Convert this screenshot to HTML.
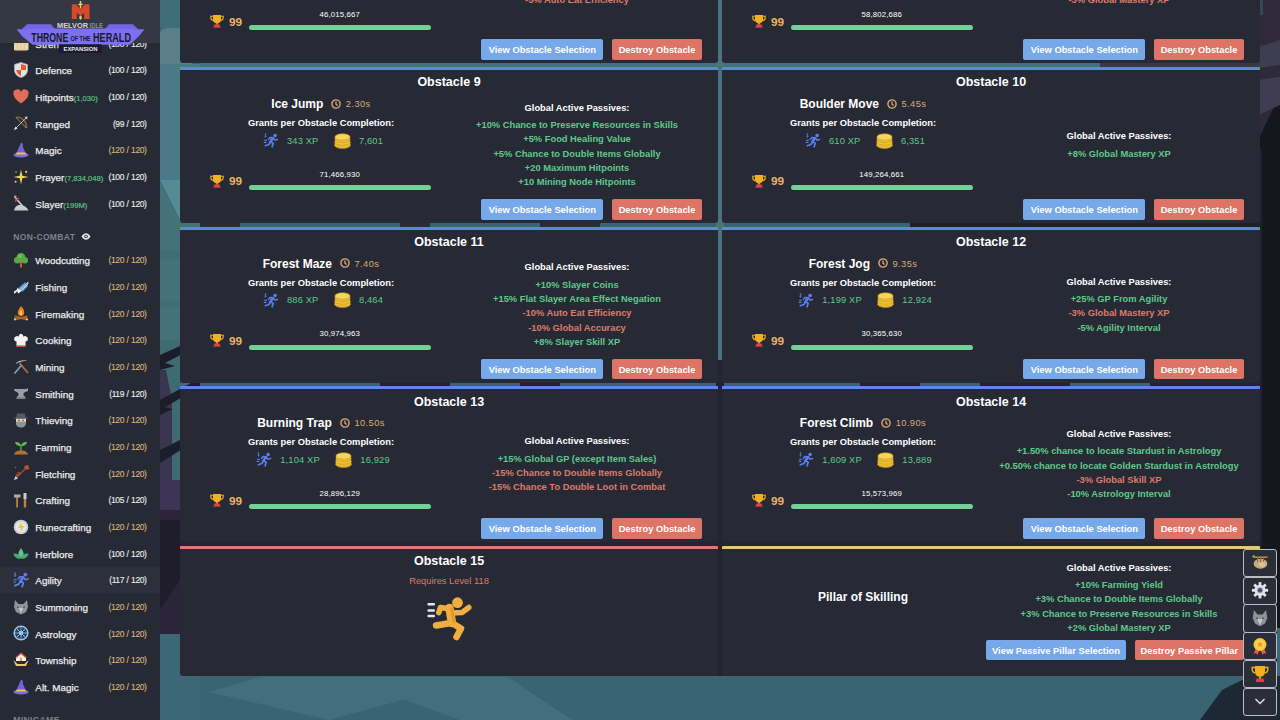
<!DOCTYPE html><html><head><meta charset="utf-8"><style>
*{box-sizing:border-box;margin:0;padding:0}
html,body{width:1280px;height:720px;overflow:hidden}
body{position:relative;font-family:"Liberation Sans",sans-serif;background:#3c6572;color:#f0f0f0}
.bg{position:absolute;left:0;top:0;width:1280px;height:720px}
.card{position:absolute;width:538px;background:#272a35;border-radius:1px 1px 3px 3px;overflow:hidden}
.card>div{position:absolute}
.card .tb{left:0;top:0;width:100%;height:3px}
.ttl{left:0;top:8.4px;width:100%;text-align:center;font-size:12.5px;font-weight:700;color:#fff;line-height:14px}
.lc{left:13px;width:256px;text-align:center;white-space:nowrap;line-height:14px}
.oname{font-size:12px;font-weight:700;color:#fff;vertical-align:middle}
.clk{display:inline-block;vertical-align:middle;margin:0 4.5px 0 8px;height:10px;line-height:0}
.otime{font-size:9.33px;color:#d9a877;vertical-align:middle;letter-spacing:0.4px}
.grants{font-size:9.33px;font-weight:700;color:#fff}
.rew{height:16px;left:15px!important}
.rew .ico{display:inline-block;vertical-align:middle;line-height:0}
.rew .rv{font-size:9.33px;color:#5ec98a;vertical-align:middle;margin-left:8px;margin-right:15.5px;letter-spacing:0.15px}
.mnum{left:68.5px;width:182.5px;text-align:center;font-size:7.8px;letter-spacing:0.15px;color:#fff}
.troph{left:30px;line-height:0}
.m99{left:49px;margin-top:0.3px;font-size:11.8px;font-weight:700;color:#ecb46a}
.bar{left:68.5px;width:182.5px;height:5px;border-radius:3px;background:#72d197}
.pas{left:269px;width:256px;text-align:center;white-space:nowrap;font-size:9.33px;font-weight:700;line-height:14.33px}
.pas .ph{color:#fff;margin-bottom:3px}
.pg{color:#5ec98a}
.pr{color:#de7a69}
.btn{top:132px;height:20.5px;border-radius:2px;font-size:9.33px;font-weight:700;color:#fff;text-align:center;line-height:22.3px;white-space:nowrap}
.bb{background:#77a9ea}
.br{background:#dd7466}
.req{left:0;width:100%;text-align:center;font-size:9.33px;color:#de7a69}
.side{position:absolute;left:0;top:0;width:160px;height:720px;background:#262a35;overflow:hidden}
.shead{position:absolute;left:0;top:0;width:160px;height:42.8px;background:#343842}
.item{position:absolute;left:0;width:160px;height:26.667px}
.item .lab{position:absolute;left:35.3px;top:1.5px;line-height:26.667px;font-size:9.9px;color:#ececec;-webkit-text-stroke:0.25px #ececec}
.item .lab small{font-size:7.6px;color:#5ec98a;-webkit-text-stroke:0.15px #5ec98a}
.item .lv{position:absolute;right:13.5px;top:0.7px;line-height:26.667px;font-size:8.5px;letter-spacing:-0.4px;word-spacing:0.6px;color:#e8e8e8;-webkit-text-stroke:0.15px #e8e8e8}
.item .lv.mx{color:#d3b27c;-webkit-text-stroke:0.15px #d3b27c}
.item .si{position:absolute;left:12.5px;top:5.3px;width:16px;height:16px;line-height:0}
.shdr{position:absolute;left:13.3px;font-size:8.5px;font-weight:700;color:#7d818a;letter-spacing:0.35px}
.fb{position:absolute;left:1243px;width:34px;height:28px;border:1.5px solid #b8bcc4;border-radius:3px;background:#2b2e39}
</style></head><body><svg class="bg" width="1280" height="720" viewBox="0 0 1280 720" style="position:absolute;left:0;top:0">
<rect x="160" y="0" width="1120" height="720" fill="#3b6472"/>
<rect x="160" y="0" width="40" height="28" fill="#3f6d78"/>
<path d="M160 64V34q0-6 8-6h24v36z" fill="#5a7f88"/>
<rect x="160" y="64" width="40" height="116" fill="#4a7a85"/>
<path d="M160 180h40v40h-20z" fill="#578a94"/>
<path d="M160 180l20 40h20v120h-40z" fill="#45717b"/>
<path d="M160 250h40v10h-40zM160 300h40v8h-40z" fill="#426c76"/>
<rect x="160" y="340" width="40" height="140" fill="#3f6a72"/>
<path d="M160 370h6l6 30v80h-12z" fill="#3a3550"/>
<path d="M160 355l40-18v8l-35 18 10 3-15 4zM160 400l40-22v9l-35 20 8 2-13 6zM160 450l40-20v8l-40 25z" fill="#1c1d2b"/>
<rect x="160" y="480" width="40" height="30" fill="#3d3556"/>
<rect x="160" y="510" width="40" height="124" fill="#2a2538"/>
<path d="M160 520h20v60l-20 30z" fill="#1f1d2c"/>
<rect x="160" y="634" width="40" height="86" fill="#3d6775"/>
<rect x="1258" y="0" width="22" height="720" fill="#15161e"/>
<path d="M1258 0h22v95l-22 45z" fill="#2e2a3c"/>
<path d="M1258 47l22-7v25l-22 3z" fill="#3f3d50"/>
<path d="M1258 80l22-3v28l-22 10z" fill="#403d52"/>
<path d="M1258 0h5v15h-5z" fill="#2e4a55"/>
<path d="M1258 150h4v420h-4z" fill="#221f30"/>
<rect x="1277" y="628" width="3" height="70" fill="#3e6878"/>
<rect x="200" y="63" width="900" height="4" fill="#44707c"/><rect x="1100" y="63" width="160" height="4" fill="#3a3848"/>
<rect x="180" y="541" width="1080" height="6" fill="#262430"/>
<rect x="716" y="0" width="8" height="360" fill="#48737f"/><rect x="716" y="360" width="8" height="316" fill="#25232f"/>
<rect x="910" y="221" width="350" height="7" fill="#1f1f2b"/>
<path d="M380 381h70v6h-70zM520 381h40v6h-40zM860 381h60v6h-60zM980 381h90v6h-90zM1150 381h110v6h-110z" fill="#23222e"/>
<path d="M200 221h40v6h-40zM400 221h30v6h-30zM540 221h60v6h-60z" fill="#2a2a38"/>
<path d="M208.7 692L261 677H508.7L535 695.6 572.5 720H460L403.7 699.4 328.7 720z" fill="#436e7e"/>
<path d="M1200 720L1222 690 1250 676 1280 676V720z" fill="#1c2834"/>
</svg><div class="card" style="left:180px;top:-92.67px;height:156px"><div class="tb" style="background:#5b87e8"></div><div class="ttl">Obstacle 7</div><div class="lc" style="top:29px"><span class="oname">Forest Jog</span><span class="clk"><svg width="10" height="10" viewBox="0 0 10 10"><circle cx="5" cy="5" r="4.1" fill="none" stroke="#d9a877" stroke-width="1.4"/><path d="M5 2.6V5.2L6.6 6.6" fill="none" stroke="#d9a877" stroke-width="1.3"/></svg></span><span class="otime">9.35s</span></div><div class="lc grants" style="top:49px">Grants per Obstacle Completion:</div><div class="lc rew" style="top:65.5px"><span class="ico"><svg width="16" height="15" viewBox="0 0 16 16"><g fill="none" stroke="#5b7ff0" stroke-linecap="round" stroke-linejoin="round"><path d="M10.2 5.3L7.4 9.4" stroke-width="2.7"/><path d="M10.2 5.3L12.4 7.6 15 7" stroke-width="1.6"/><path d="M9.6 5.1L6.9 4.7 5.2 6.8" stroke-width="1.6"/><path d="M7.4 9.4L10.3 10.9 9.2 14.7" stroke-width="1.8"/><path d="M7.4 9.4L5.7 12.2 1.9 13.6" stroke-width="1.8"/><path d="M1 7.8h2.4M0.7 10h2" stroke-width="1.1"/><path d="M2.6 1.3C1.6 1.1 1.2 1.7 1.6 2.2S3.2 2.8 2.9 3.6 1.6 4 1.2 3.7M2.1 0.6v4" stroke-width="0.7"/></g><circle cx="12.4" cy="2.6" r="1.9" fill="#5b7ff0"/></svg></span><span class="rv">1,199 XP</span><span class="ico coin"><svg width="17" height="16" viewBox="0 0 17 16"><g stroke="#c99a1c" stroke-width="0.6"><ellipse cx="8.5" cy="12.3" rx="7.8" ry="3.2" fill="#e7b92e"/><rect x="0.7" y="9" width="15.6" height="3.3" fill="#e7b92e" stroke="none"/><ellipse cx="8.5" cy="9" rx="7.8" ry="3" fill="#f3cd45"/><ellipse cx="8.5" cy="7" rx="7.6" ry="3" fill="#e7b92e"/><rect x="0.9" y="4" width="15.2" height="3" fill="#e7b92e" stroke="none"/><ellipse cx="8.5" cy="4" rx="7.6" ry="3.2" fill="#f6d55a"/></g></svg></span><span class="rv" style="margin-right:0">12,924</span></div><div class="mnum" style="top:102.5px">46,015,667</div><div class="troph" style="top:106.5px"><svg width="14" height="14" viewBox="0 0 14 14"><path d="M3 1h8v4.2a4 4 0 0 1-8 0z" fill="#f2b01e"/><path d="M3 2.2H0.8v1.4a3 3 0 0 0 2.7 3M11 2.2h2.2v1.4a3 3 0 0 1-2.7 3" fill="none" stroke="#f2b01e" stroke-width="1.1"/><rect x="6" y="8.7" width="2" height="2" fill="#e09a14"/><path d="M4.3 10.5h5.4l0.6 2.8H3.7z" fill="#d6454f"/><rect x="3.2" y="13" width="7.6" height="1" fill="#b0303a"/></svg></div><div class="m99" style="top:107px">99</div><div class="bar" style="top:118px"></div><div class="pas" style="top:53.80px;"><div class="ph">Global Active Passives:</div><div class="pg">+5% Something Here</div><div class="pr">-5% Auto Eat Efficiency</div></div><div class="btn bb" style="left:301.3px;width:122px">View Obstacle Selection</div><div class="btn br" style="left:432px;width:90px">Destroy Obstacle</div></div><div class="card" style="left:722px;top:-92.67px;height:156px"><div class="tb" style="background:#5b87e8"></div><div class="ttl">Obstacle 8</div><div class="lc" style="top:29px"><span class="oname">Forest Jog</span><span class="clk"><svg width="10" height="10" viewBox="0 0 10 10"><circle cx="5" cy="5" r="4.1" fill="none" stroke="#d9a877" stroke-width="1.4"/><path d="M5 2.6V5.2L6.6 6.6" fill="none" stroke="#d9a877" stroke-width="1.3"/></svg></span><span class="otime">9.35s</span></div><div class="lc grants" style="top:49px">Grants per Obstacle Completion:</div><div class="lc rew" style="top:65.5px"><span class="ico"><svg width="16" height="15" viewBox="0 0 16 16"><g fill="none" stroke="#5b7ff0" stroke-linecap="round" stroke-linejoin="round"><path d="M10.2 5.3L7.4 9.4" stroke-width="2.7"/><path d="M10.2 5.3L12.4 7.6 15 7" stroke-width="1.6"/><path d="M9.6 5.1L6.9 4.7 5.2 6.8" stroke-width="1.6"/><path d="M7.4 9.4L10.3 10.9 9.2 14.7" stroke-width="1.8"/><path d="M7.4 9.4L5.7 12.2 1.9 13.6" stroke-width="1.8"/><path d="M1 7.8h2.4M0.7 10h2" stroke-width="1.1"/><path d="M2.6 1.3C1.6 1.1 1.2 1.7 1.6 2.2S3.2 2.8 2.9 3.6 1.6 4 1.2 3.7M2.1 0.6v4" stroke-width="0.7"/></g><circle cx="12.4" cy="2.6" r="1.9" fill="#5b7ff0"/></svg></span><span class="rv">1,199 XP</span><span class="ico coin"><svg width="17" height="16" viewBox="0 0 17 16"><g stroke="#c99a1c" stroke-width="0.6"><ellipse cx="8.5" cy="12.3" rx="7.8" ry="3.2" fill="#e7b92e"/><rect x="0.7" y="9" width="15.6" height="3.3" fill="#e7b92e" stroke="none"/><ellipse cx="8.5" cy="9" rx="7.8" ry="3" fill="#f3cd45"/><ellipse cx="8.5" cy="7" rx="7.6" ry="3" fill="#e7b92e"/><rect x="0.9" y="4" width="15.2" height="3" fill="#e7b92e" stroke="none"/><ellipse cx="8.5" cy="4" rx="7.6" ry="3.2" fill="#f6d55a"/></g></svg></span><span class="rv" style="margin-right:0">12,924</span></div><div class="mnum" style="top:102.5px">58,802,686</div><div class="troph" style="top:106.5px"><svg width="14" height="14" viewBox="0 0 14 14"><path d="M3 1h8v4.2a4 4 0 0 1-8 0z" fill="#f2b01e"/><path d="M3 2.2H0.8v1.4a3 3 0 0 0 2.7 3M11 2.2h2.2v1.4a3 3 0 0 1-2.7 3" fill="none" stroke="#f2b01e" stroke-width="1.1"/><rect x="6" y="8.7" width="2" height="2" fill="#e09a14"/><path d="M4.3 10.5h5.4l0.6 2.8H3.7z" fill="#d6454f"/><rect x="3.2" y="13" width="7.6" height="1" fill="#b0303a"/></svg></div><div class="m99" style="top:107px">99</div><div class="bar" style="top:118px"></div><div class="pas" style="top:53.80px;"><div class="ph">Global Active Passives:</div><div class="pg">+5% Something Here</div><div class="pr">-3% Global Mastery XP</div></div><div class="btn bb" style="left:301.3px;width:122px">View Obstacle Selection</div><div class="btn br" style="left:432px;width:90px">Destroy Obstacle</div></div><div class="card" style="left:180px;top:67.00px;height:156px"><div class="tb" style="background:#5b87e8"></div><div class="ttl">Obstacle 9</div><div class="lc" style="top:29px"><span class="oname">Ice Jump</span><span class="clk"><svg width="10" height="10" viewBox="0 0 10 10"><circle cx="5" cy="5" r="4.1" fill="none" stroke="#d9a877" stroke-width="1.4"/><path d="M5 2.6V5.2L6.6 6.6" fill="none" stroke="#d9a877" stroke-width="1.3"/></svg></span><span class="otime">2.30s</span></div><div class="lc grants" style="top:49px">Grants per Obstacle Completion:</div><div class="lc rew" style="top:65.5px"><span class="ico"><svg width="16" height="15" viewBox="0 0 16 16"><g fill="none" stroke="#5b7ff0" stroke-linecap="round" stroke-linejoin="round"><path d="M10.2 5.3L7.4 9.4" stroke-width="2.7"/><path d="M10.2 5.3L12.4 7.6 15 7" stroke-width="1.6"/><path d="M9.6 5.1L6.9 4.7 5.2 6.8" stroke-width="1.6"/><path d="M7.4 9.4L10.3 10.9 9.2 14.7" stroke-width="1.8"/><path d="M7.4 9.4L5.7 12.2 1.9 13.6" stroke-width="1.8"/><path d="M1 7.8h2.4M0.7 10h2" stroke-width="1.1"/><path d="M2.6 1.3C1.6 1.1 1.2 1.7 1.6 2.2S3.2 2.8 2.9 3.6 1.6 4 1.2 3.7M2.1 0.6v4" stroke-width="0.7"/></g><circle cx="12.4" cy="2.6" r="1.9" fill="#5b7ff0"/></svg></span><span class="rv">343 XP</span><span class="ico coin"><svg width="17" height="16" viewBox="0 0 17 16"><g stroke="#c99a1c" stroke-width="0.6"><ellipse cx="8.5" cy="12.3" rx="7.8" ry="3.2" fill="#e7b92e"/><rect x="0.7" y="9" width="15.6" height="3.3" fill="#e7b92e" stroke="none"/><ellipse cx="8.5" cy="9" rx="7.8" ry="3" fill="#f3cd45"/><ellipse cx="8.5" cy="7" rx="7.6" ry="3" fill="#e7b92e"/><rect x="0.9" y="4" width="15.2" height="3" fill="#e7b92e" stroke="none"/><ellipse cx="8.5" cy="4" rx="7.6" ry="3.2" fill="#f6d55a"/></g></svg></span><span class="rv" style="margin-right:0">7,601</span></div><div class="mnum" style="top:102.5px">71,466,930</div><div class="troph" style="top:106.5px"><svg width="14" height="14" viewBox="0 0 14 14"><path d="M3 1h8v4.2a4 4 0 0 1-8 0z" fill="#f2b01e"/><path d="M3 2.2H0.8v1.4a3 3 0 0 0 2.7 3M11 2.2h2.2v1.4a3 3 0 0 1-2.7 3" fill="none" stroke="#f2b01e" stroke-width="1.1"/><rect x="6" y="8.7" width="2" height="2" fill="#e09a14"/><path d="M4.3 10.5h5.4l0.6 2.8H3.7z" fill="#d6454f"/><rect x="3.2" y="13" width="7.6" height="1" fill="#b0303a"/></svg></div><div class="m99" style="top:107px">99</div><div class="bar" style="top:118px"></div><div class="pas" style="top:33.61px;"><div class="ph">Global Active Passives:</div><div class="pg">+10% Chance to Preserve Resources in Skills</div><div class="pg">+5% Food Healing Value</div><div class="pg">+5% Chance to Double Items Globally</div><div class="pg">+20 Maximum Hitpoints</div><div class="pg">+10 Mining Node Hitpoints</div></div><div class="btn bb" style="left:301.3px;width:122px">View Obstacle Selection</div><div class="btn br" style="left:432px;width:90px">Destroy Obstacle</div></div><div class="card" style="left:722px;top:67.00px;height:156px"><div class="tb" style="background:#5b87e8"></div><div class="ttl">Obstacle 10</div><div class="lc" style="top:29px"><span class="oname">Boulder Move</span><span class="clk"><svg width="10" height="10" viewBox="0 0 10 10"><circle cx="5" cy="5" r="4.1" fill="none" stroke="#d9a877" stroke-width="1.4"/><path d="M5 2.6V5.2L6.6 6.6" fill="none" stroke="#d9a877" stroke-width="1.3"/></svg></span><span class="otime">5.45s</span></div><div class="lc grants" style="top:49px">Grants per Obstacle Completion:</div><div class="lc rew" style="top:65.5px"><span class="ico"><svg width="16" height="15" viewBox="0 0 16 16"><g fill="none" stroke="#5b7ff0" stroke-linecap="round" stroke-linejoin="round"><path d="M10.2 5.3L7.4 9.4" stroke-width="2.7"/><path d="M10.2 5.3L12.4 7.6 15 7" stroke-width="1.6"/><path d="M9.6 5.1L6.9 4.7 5.2 6.8" stroke-width="1.6"/><path d="M7.4 9.4L10.3 10.9 9.2 14.7" stroke-width="1.8"/><path d="M7.4 9.4L5.7 12.2 1.9 13.6" stroke-width="1.8"/><path d="M1 7.8h2.4M0.7 10h2" stroke-width="1.1"/><path d="M2.6 1.3C1.6 1.1 1.2 1.7 1.6 2.2S3.2 2.8 2.9 3.6 1.6 4 1.2 3.7M2.1 0.6v4" stroke-width="0.7"/></g><circle cx="12.4" cy="2.6" r="1.9" fill="#5b7ff0"/></svg></span><span class="rv">610 XP</span><span class="ico coin"><svg width="17" height="16" viewBox="0 0 17 16"><g stroke="#c99a1c" stroke-width="0.6"><ellipse cx="8.5" cy="12.3" rx="7.8" ry="3.2" fill="#e7b92e"/><rect x="0.7" y="9" width="15.6" height="3.3" fill="#e7b92e" stroke="none"/><ellipse cx="8.5" cy="9" rx="7.8" ry="3" fill="#f3cd45"/><ellipse cx="8.5" cy="7" rx="7.6" ry="3" fill="#e7b92e"/><rect x="0.9" y="4" width="15.2" height="3" fill="#e7b92e" stroke="none"/><ellipse cx="8.5" cy="4" rx="7.6" ry="3.2" fill="#f6d55a"/></g></svg></span><span class="rv" style="margin-right:0">6,351</span></div><div class="mnum" style="top:102.5px">149,264,661</div><div class="troph" style="top:106.5px"><svg width="14" height="14" viewBox="0 0 14 14"><path d="M3 1h8v4.2a4 4 0 0 1-8 0z" fill="#f2b01e"/><path d="M3 2.2H0.8v1.4a3 3 0 0 0 2.7 3M11 2.2h2.2v1.4a3 3 0 0 1-2.7 3" fill="none" stroke="#f2b01e" stroke-width="1.1"/><rect x="6" y="8.7" width="2" height="2" fill="#e09a14"/><path d="M4.3 10.5h5.4l0.6 2.8H3.7z" fill="#d6454f"/><rect x="3.2" y="13" width="7.6" height="1" fill="#b0303a"/></svg></div><div class="m99" style="top:107px">99</div><div class="bar" style="top:118px"></div><div class="pas" style="top:62.27px;"><div class="ph">Global Active Passives:</div><div class="pg">+8% Global Mastery XP</div></div><div class="btn bb" style="left:301.3px;width:122px">View Obstacle Selection</div><div class="btn br" style="left:432px;width:90px">Destroy Obstacle</div></div><div class="card" style="left:180px;top:226.67px;height:156px"><div class="tb" style="background:#5b87e8"></div><div class="ttl">Obstacle 11</div><div class="lc" style="top:29px"><span class="oname">Forest Maze</span><span class="clk"><svg width="10" height="10" viewBox="0 0 10 10"><circle cx="5" cy="5" r="4.1" fill="none" stroke="#d9a877" stroke-width="1.4"/><path d="M5 2.6V5.2L6.6 6.6" fill="none" stroke="#d9a877" stroke-width="1.3"/></svg></span><span class="otime">7.40s</span></div><div class="lc grants" style="top:49px">Grants per Obstacle Completion:</div><div class="lc rew" style="top:65.5px"><span class="ico"><svg width="16" height="15" viewBox="0 0 16 16"><g fill="none" stroke="#5b7ff0" stroke-linecap="round" stroke-linejoin="round"><path d="M10.2 5.3L7.4 9.4" stroke-width="2.7"/><path d="M10.2 5.3L12.4 7.6 15 7" stroke-width="1.6"/><path d="M9.6 5.1L6.9 4.7 5.2 6.8" stroke-width="1.6"/><path d="M7.4 9.4L10.3 10.9 9.2 14.7" stroke-width="1.8"/><path d="M7.4 9.4L5.7 12.2 1.9 13.6" stroke-width="1.8"/><path d="M1 7.8h2.4M0.7 10h2" stroke-width="1.1"/><path d="M2.6 1.3C1.6 1.1 1.2 1.7 1.6 2.2S3.2 2.8 2.9 3.6 1.6 4 1.2 3.7M2.1 0.6v4" stroke-width="0.7"/></g><circle cx="12.4" cy="2.6" r="1.9" fill="#5b7ff0"/></svg></span><span class="rv">886 XP</span><span class="ico coin"><svg width="17" height="16" viewBox="0 0 17 16"><g stroke="#c99a1c" stroke-width="0.6"><ellipse cx="8.5" cy="12.3" rx="7.8" ry="3.2" fill="#e7b92e"/><rect x="0.7" y="9" width="15.6" height="3.3" fill="#e7b92e" stroke="none"/><ellipse cx="8.5" cy="9" rx="7.8" ry="3" fill="#f3cd45"/><ellipse cx="8.5" cy="7" rx="7.6" ry="3" fill="#e7b92e"/><rect x="0.9" y="4" width="15.2" height="3" fill="#e7b92e" stroke="none"/><ellipse cx="8.5" cy="4" rx="7.6" ry="3.2" fill="#f6d55a"/></g></svg></span><span class="rv" style="margin-right:0">8,464</span></div><div class="mnum" style="top:102.5px">30,974,963</div><div class="troph" style="top:106.5px"><svg width="14" height="14" viewBox="0 0 14 14"><path d="M3 1h8v4.2a4 4 0 0 1-8 0z" fill="#f2b01e"/><path d="M3 2.2H0.8v1.4a3 3 0 0 0 2.7 3M11 2.2h2.2v1.4a3 3 0 0 1-2.7 3" fill="none" stroke="#f2b01e" stroke-width="1.1"/><rect x="6" y="8.7" width="2" height="2" fill="#e09a14"/><path d="M4.3 10.5h5.4l0.6 2.8H3.7z" fill="#d6454f"/><rect x="3.2" y="13" width="7.6" height="1" fill="#b0303a"/></svg></div><div class="m99" style="top:107px">99</div><div class="bar" style="top:118px"></div><div class="pas" style="top:33.61px;"><div class="ph">Global Active Passives:</div><div class="pg">+10% Slayer Coins</div><div class="pg">+15% Flat Slayer Area Effect Negation</div><div class="pr">-10% Auto Eat Efficiency</div><div class="pr">-10% Global Accuracy</div><div class="pg">+8% Slayer Skill XP</div></div><div class="btn bb" style="left:301.3px;width:122px">View Obstacle Selection</div><div class="btn br" style="left:432px;width:90px">Destroy Obstacle</div></div><div class="card" style="left:722px;top:226.67px;height:156px"><div class="tb" style="background:#5b87e8"></div><div class="ttl">Obstacle 12</div><div class="lc" style="top:29px"><span class="oname">Forest Jog</span><span class="clk"><svg width="10" height="10" viewBox="0 0 10 10"><circle cx="5" cy="5" r="4.1" fill="none" stroke="#d9a877" stroke-width="1.4"/><path d="M5 2.6V5.2L6.6 6.6" fill="none" stroke="#d9a877" stroke-width="1.3"/></svg></span><span class="otime">9.35s</span></div><div class="lc grants" style="top:49px">Grants per Obstacle Completion:</div><div class="lc rew" style="top:65.5px"><span class="ico"><svg width="16" height="15" viewBox="0 0 16 16"><g fill="none" stroke="#5b7ff0" stroke-linecap="round" stroke-linejoin="round"><path d="M10.2 5.3L7.4 9.4" stroke-width="2.7"/><path d="M10.2 5.3L12.4 7.6 15 7" stroke-width="1.6"/><path d="M9.6 5.1L6.9 4.7 5.2 6.8" stroke-width="1.6"/><path d="M7.4 9.4L10.3 10.9 9.2 14.7" stroke-width="1.8"/><path d="M7.4 9.4L5.7 12.2 1.9 13.6" stroke-width="1.8"/><path d="M1 7.8h2.4M0.7 10h2" stroke-width="1.1"/><path d="M2.6 1.3C1.6 1.1 1.2 1.7 1.6 2.2S3.2 2.8 2.9 3.6 1.6 4 1.2 3.7M2.1 0.6v4" stroke-width="0.7"/></g><circle cx="12.4" cy="2.6" r="1.9" fill="#5b7ff0"/></svg></span><span class="rv">1,199 XP</span><span class="ico coin"><svg width="17" height="16" viewBox="0 0 17 16"><g stroke="#c99a1c" stroke-width="0.6"><ellipse cx="8.5" cy="12.3" rx="7.8" ry="3.2" fill="#e7b92e"/><rect x="0.7" y="9" width="15.6" height="3.3" fill="#e7b92e" stroke="none"/><ellipse cx="8.5" cy="9" rx="7.8" ry="3" fill="#f3cd45"/><ellipse cx="8.5" cy="7" rx="7.6" ry="3" fill="#e7b92e"/><rect x="0.9" y="4" width="15.2" height="3" fill="#e7b92e" stroke="none"/><ellipse cx="8.5" cy="4" rx="7.6" ry="3.2" fill="#f6d55a"/></g></svg></span><span class="rv" style="margin-right:0">12,924</span></div><div class="mnum" style="top:102.5px">30,365,630</div><div class="troph" style="top:106.5px"><svg width="14" height="14" viewBox="0 0 14 14"><path d="M3 1h8v4.2a4 4 0 0 1-8 0z" fill="#f2b01e"/><path d="M3 2.2H0.8v1.4a3 3 0 0 0 2.7 3M11 2.2h2.2v1.4a3 3 0 0 1-2.7 3" fill="none" stroke="#f2b01e" stroke-width="1.1"/><rect x="6" y="8.7" width="2" height="2" fill="#e09a14"/><path d="M4.3 10.5h5.4l0.6 2.8H3.7z" fill="#d6454f"/><rect x="3.2" y="13" width="7.6" height="1" fill="#b0303a"/></svg></div><div class="m99" style="top:107px">99</div><div class="bar" style="top:118px"></div><div class="pas" style="top:47.94px;"><div class="ph">Global Active Passives:</div><div class="pg">+25% GP From Agility</div><div class="pr">-3% Global Mastery XP</div><div class="pg">-5% Agility Interval</div></div><div class="btn bb" style="left:301.3px;width:122px">View Obstacle Selection</div><div class="btn br" style="left:432px;width:90px">Destroy Obstacle</div></div><div class="card" style="left:180px;top:386.33px;height:156px"><div class="tb" style="background:#5b87e8"></div><div class="ttl">Obstacle 13</div><div class="lc" style="top:29px"><span class="oname">Burning Trap</span><span class="clk"><svg width="10" height="10" viewBox="0 0 10 10"><circle cx="5" cy="5" r="4.1" fill="none" stroke="#d9a877" stroke-width="1.4"/><path d="M5 2.6V5.2L6.6 6.6" fill="none" stroke="#d9a877" stroke-width="1.3"/></svg></span><span class="otime">10.50s</span></div><div class="lc grants" style="top:49px">Grants per Obstacle Completion:</div><div class="lc rew" style="top:65.5px"><span class="ico"><svg width="16" height="15" viewBox="0 0 16 16"><g fill="none" stroke="#5b7ff0" stroke-linecap="round" stroke-linejoin="round"><path d="M10.2 5.3L7.4 9.4" stroke-width="2.7"/><path d="M10.2 5.3L12.4 7.6 15 7" stroke-width="1.6"/><path d="M9.6 5.1L6.9 4.7 5.2 6.8" stroke-width="1.6"/><path d="M7.4 9.4L10.3 10.9 9.2 14.7" stroke-width="1.8"/><path d="M7.4 9.4L5.7 12.2 1.9 13.6" stroke-width="1.8"/><path d="M1 7.8h2.4M0.7 10h2" stroke-width="1.1"/><path d="M2.6 1.3C1.6 1.1 1.2 1.7 1.6 2.2S3.2 2.8 2.9 3.6 1.6 4 1.2 3.7M2.1 0.6v4" stroke-width="0.7"/></g><circle cx="12.4" cy="2.6" r="1.9" fill="#5b7ff0"/></svg></span><span class="rv">1,104 XP</span><span class="ico coin"><svg width="17" height="16" viewBox="0 0 17 16"><g stroke="#c99a1c" stroke-width="0.6"><ellipse cx="8.5" cy="12.3" rx="7.8" ry="3.2" fill="#e7b92e"/><rect x="0.7" y="9" width="15.6" height="3.3" fill="#e7b92e" stroke="none"/><ellipse cx="8.5" cy="9" rx="7.8" ry="3" fill="#f3cd45"/><ellipse cx="8.5" cy="7" rx="7.6" ry="3" fill="#e7b92e"/><rect x="0.9" y="4" width="15.2" height="3" fill="#e7b92e" stroke="none"/><ellipse cx="8.5" cy="4" rx="7.6" ry="3.2" fill="#f6d55a"/></g></svg></span><span class="rv" style="margin-right:0">16,929</span></div><div class="mnum" style="top:102.5px">28,896,129</div><div class="troph" style="top:106.5px"><svg width="14" height="14" viewBox="0 0 14 14"><path d="M3 1h8v4.2a4 4 0 0 1-8 0z" fill="#f2b01e"/><path d="M3 2.2H0.8v1.4a3 3 0 0 0 2.7 3M11 2.2h2.2v1.4a3 3 0 0 1-2.7 3" fill="none" stroke="#f2b01e" stroke-width="1.1"/><rect x="6" y="8.7" width="2" height="2" fill="#e09a14"/><path d="M4.3 10.5h5.4l0.6 2.8H3.7z" fill="#d6454f"/><rect x="3.2" y="13" width="7.6" height="1" fill="#b0303a"/></svg></div><div class="m99" style="top:107px">99</div><div class="bar" style="top:118px"></div><div class="pas" style="top:47.94px;"><div class="ph">Global Active Passives:</div><div class="pg">+15% Global GP (except Item Sales)</div><div class="pr">-15% Chance to Double Items Globally</div><div class="pr">-15% Chance To Double Loot in Combat</div></div><div class="btn bb" style="left:301.3px;width:122px">View Obstacle Selection</div><div class="btn br" style="left:432px;width:90px">Destroy Obstacle</div></div><div class="card" style="left:722px;top:386.33px;height:156px"><div class="tb" style="background:#5b87e8"></div><div class="ttl">Obstacle 14</div><div class="lc" style="top:29px"><span class="oname">Forest Climb</span><span class="clk"><svg width="10" height="10" viewBox="0 0 10 10"><circle cx="5" cy="5" r="4.1" fill="none" stroke="#d9a877" stroke-width="1.4"/><path d="M5 2.6V5.2L6.6 6.6" fill="none" stroke="#d9a877" stroke-width="1.3"/></svg></span><span class="otime">10.90s</span></div><div class="lc grants" style="top:49px">Grants per Obstacle Completion:</div><div class="lc rew" style="top:65.5px"><span class="ico"><svg width="16" height="15" viewBox="0 0 16 16"><g fill="none" stroke="#5b7ff0" stroke-linecap="round" stroke-linejoin="round"><path d="M10.2 5.3L7.4 9.4" stroke-width="2.7"/><path d="M10.2 5.3L12.4 7.6 15 7" stroke-width="1.6"/><path d="M9.6 5.1L6.9 4.7 5.2 6.8" stroke-width="1.6"/><path d="M7.4 9.4L10.3 10.9 9.2 14.7" stroke-width="1.8"/><path d="M7.4 9.4L5.7 12.2 1.9 13.6" stroke-width="1.8"/><path d="M1 7.8h2.4M0.7 10h2" stroke-width="1.1"/><path d="M2.6 1.3C1.6 1.1 1.2 1.7 1.6 2.2S3.2 2.8 2.9 3.6 1.6 4 1.2 3.7M2.1 0.6v4" stroke-width="0.7"/></g><circle cx="12.4" cy="2.6" r="1.9" fill="#5b7ff0"/></svg></span><span class="rv">1,609 XP</span><span class="ico coin"><svg width="17" height="16" viewBox="0 0 17 16"><g stroke="#c99a1c" stroke-width="0.6"><ellipse cx="8.5" cy="12.3" rx="7.8" ry="3.2" fill="#e7b92e"/><rect x="0.7" y="9" width="15.6" height="3.3" fill="#e7b92e" stroke="none"/><ellipse cx="8.5" cy="9" rx="7.8" ry="3" fill="#f3cd45"/><ellipse cx="8.5" cy="7" rx="7.6" ry="3" fill="#e7b92e"/><rect x="0.9" y="4" width="15.2" height="3" fill="#e7b92e" stroke="none"/><ellipse cx="8.5" cy="4" rx="7.6" ry="3.2" fill="#f6d55a"/></g></svg></span><span class="rv" style="margin-right:0">13,889</span></div><div class="mnum" style="top:102.5px">15,573,969</div><div class="troph" style="top:106.5px"><svg width="14" height="14" viewBox="0 0 14 14"><path d="M3 1h8v4.2a4 4 0 0 1-8 0z" fill="#f2b01e"/><path d="M3 2.2H0.8v1.4a3 3 0 0 0 2.7 3M11 2.2h2.2v1.4a3 3 0 0 1-2.7 3" fill="none" stroke="#f2b01e" stroke-width="1.1"/><rect x="6" y="8.7" width="2" height="2" fill="#e09a14"/><path d="M4.3 10.5h5.4l0.6 2.8H3.7z" fill="#d6454f"/><rect x="3.2" y="13" width="7.6" height="1" fill="#b0303a"/></svg></div><div class="m99" style="top:107px">99</div><div class="bar" style="top:118px"></div><div class="pas" style="top:40.77px;"><div class="ph">Global Active Passives:</div><div class="pg">+1.50% chance to locate Stardust in Astrology</div><div class="pg">+0.50% chance to locate Golden Stardust in Astrology</div><div class="pr">-3% Global Skill XP</div><div class="pg">-10% Astrology Interval</div></div><div class="btn bb" style="left:301.3px;width:122px">View Obstacle Selection</div><div class="btn br" style="left:432px;width:90px">Destroy Obstacle</div></div><div class="card" style="left:180px;top:546.00px;height:130px"><div class="tb" style="background:#de7a69"></div><div class="ttl">Obstacle 15</div><div class="req" style="top:30px">Requires Level 118</div><div style="left:247px;top:50px;line-height:0"><svg width="48" height="46" viewBox="0 0 48 46"><g fill="none" stroke="#f0ad40" stroke-linecap="round" stroke-linejoin="round"><path d="M22.5 12L25 27" stroke-width="8.5"/><path d="M20 12.5L13.4 11.5 11.8 16.6" stroke-width="5.5"/><path d="M25 17L35 16.5 41.8 11.5" stroke-width="5.5"/><path d="M24 27L9 29.5" stroke-width="6.5"/><path d="M25 27L34 32.5 29.5 41" stroke-width="6.5"/></g><path d="M24.5 11.5L27 27" stroke="#e39a2c" stroke-width="3" fill="none"/><circle cx="30.5" cy="6.7" r="5.4" fill="#f0ad40"/><path d="M1.6 8.2h5.2M1.6 14.6h5.2M1.6 20.1h5.2" stroke="#e4e7ee" stroke-width="2.5" stroke-linecap="round"/></svg></div></div><div class="card" style="left:722px;top:546.00px;height:130px"><div class="tb" style="background:#e9c47c"></div><div class="lc" style="top:43px"><span class="oname">Pillar of Skilling</span></div><div class="pas" style="top:14.57px;"><div class="ph">Global Active Passives:</div><div class="pg">+10% Farming Yield</div><div class="pg">+3% Chance to Double Items Globally</div><div class="pg">+3% Chance to Preserve Resources in Skills</div><div class="pg">+2% Global Mastery XP</div></div><div class="btn bb" style="top:93.7px;left:264px;width:140px">View Passive Pillar Selection</div><div class="btn br" style="top:93.7px;left:412.7px;width:109.3px">Destroy Passive Pillar</div></div><div class="side"><div class="item" style="top:30.00px;"><div class="si"><svg width="16" height="16" viewBox="0 0 16 16"><path d="M1 6.5q0-1.2 1.2-1.2h11.5l1.8 1v8.5l-1.8.7H2.2Q1 15.5 1 14.3z" fill="#ecd6a8"/><path d="M4.5 6v9M8 6v9M11.5 6v9" stroke="#d9bf8a" stroke-width="0.6"/></svg></div><div class="lab">Strength</div><div class="lv">(100 / 120)</div></div><div class="item" style="top:56.67px;"><div class="si"><svg width="16" height="16" viewBox="0 0 16 16"><path d="M8 0.5L14.5 2.5V8c0 4-3 6.5-6.5 7.5C4.5 14.5 1.5 12 1.5 8V2.5z" fill="#dfe2e6"/><path d="M8 2L13 3.6V8H8zM8 8H3.2c.3 3 2.3 5 4.8 6z" fill="#e8582a"/><path d="M8 0.5L14.5 2.5V8c0 4-3 6.5-6.5 7.5C4.5 14.5 1.5 12 1.5 8V2.5z" fill="none" stroke="#a9adb3" stroke-width="0.8"/></svg></div><div class="lab">Defence</div><div class="lv">(100 / 120)</div></div><div class="item" style="top:83.33px;"><div class="si"><svg width="16" height="16" viewBox="0 0 16 16"><path d="M8 14.5C3 11 0.5 8 0.5 5A3.8 3.8 0 0 1 8 3.3 3.8 3.8 0 0 1 15.5 5c0 3-2.5 6-7.5 9.5z" fill="#e06d58"/></svg></div><div class="lab">Hitpoints<small>(1,030)</small></div><div class="lv">(100 / 120)</div></div><div class="item" style="top:110.00px;"><div class="si"><svg width="16" height="16" viewBox="0 0 16 16"><path d="M3 2.5C8 1 14 6 13.5 13" fill="none" stroke="#9a5a2a" stroke-width="1.6"/><path d="M3 2.5L13.5 13" stroke="#cfcfcf" stroke-width="0.6"/><path d="M1.5 14.5L14 2" stroke="#d8c090" stroke-width="0.9"/><path d="M14.5 1.5l-3 .5 2.5 2.5z" fill="#bfe0f0"/><path d="M1 15l1.5-3.5 2 2z" fill="#eee"/></svg></div><div class="lab">Ranged</div><div class="lv">(99 / 120)</div></div><div class="item" style="top:136.67px;"><div class="si"><svg width="16" height="16" viewBox="0 0 16 16"><path d="M8 0.5L13 12H3z" fill="#6f63d9"/><path d="M8 0.5L10 5 9.5 1.7z" fill="#9a90f0"/><ellipse cx="8" cy="13" rx="7.5" ry="2.5" fill="#7a6ee6"/><path d="M3.6 10.5h8.8l.6 2H3z" fill="#f1c232"/></svg></div><div class="lab">Magic</div><div class="lv mx">(120 / 120)</div></div><div class="item" style="top:163.34px;"><div class="si"><svg width="16" height="16" viewBox="0 0 16 16"><path d="M8 0.5L9.3 6.7 15.5 8 9.3 9.3 8 15.5 6.7 9.3 0.5 8 6.7 6.7z" fill="#f3d460"/><circle cx="13.2" cy="2.8" r="1.1" fill="#f3d460"/><circle cx="2.6" cy="12.8" r="1" fill="#f3d460"/><circle cx="3" cy="3" r="0.7" fill="#f3d460"/></svg></div><div class="lab">Prayer<small>(7,834,048)</small></div><div class="lv">(100 / 120)</div></div><div class="item" style="top:190.00px;"><div class="si"><svg width="16" height="16" viewBox="0 0 16 16"><path d="M1 15.5C2 11 5 9.5 8 10s6 2 7.5 5.5z" fill="#c9ccd2"/><path d="M2.5 3L9.5 11" stroke="#c9ccd2" stroke-width="1.6"/><path d="M2 6.5L6 3.2" stroke="#d9433a" stroke-width="1.5"/><circle cx="2.2" cy="1.8" r="1.3" fill="#8fd05a"/></svg></div><div class="lab">Slayer<small>(199M)</small></div><div class="lv">(100 / 120)</div></div><div class="shdr" style="top:231.9px">NON-COMBAT<svg width="10" height="7" viewBox="0 0 10 7" style="position:absolute;left:68px;top:1.3px"><path d="M0.5 3.5C2 1 3.5 0.3 5 0.3S8 1 9.5 3.5C8 6 6.5 6.7 5 6.7S2 6 .5 3.5z" fill="#e6e6e6"/><circle cx="5" cy="3.5" r="1.8" fill="#262a35"/><circle cx="5" cy="3.5" r="0.9" fill="#e6e6e6"/></svg></div><div class="item" style="top:246.67px;"><div class="si"><svg width="16" height="16" viewBox="0 0 16 16"><path d="M7 9h2v6.5H7z" fill="#b2682e"/><circle cx="8" cy="5.5" r="4.5" fill="#5aa845"/><circle cx="4.3" cy="8.2" r="3.3" fill="#5aa845"/><circle cx="11.7" cy="8.2" r="3.3" fill="#5aa845"/><circle cx="7" cy="4.3" r="2" fill="#6ec255"/></svg></div><div class="lab">Woodcutting</div><div class="lv mx">(120 / 120)</div></div><div class="item" style="top:273.34px;"><div class="si"><svg width="16" height="16" viewBox="0 0 16 16"><path d="M0.8 12.5L3.5 11 4.8 8.6 6.2 10.6 12 5C13.5 3.5 15 2.5 15.5 2.7 15.5 4.5 14.5 6.5 12.6 8.3L7 13.2 5.3 14.6 4 12.3 1.5 15z" fill="#e6f0fa"/><path d="M6 9.5L12.3 3.6M7.5 11L13.6 5.2M9 12.3L14.5 7" stroke="#5da4e8" stroke-width="1.1"/><circle cx="13.6" cy="3.8" r="0.8" fill="#1d3a66"/></svg></div><div class="lab">Fishing</div><div class="lv mx">(120 / 120)</div></div><div class="item" style="top:300.00px;"><div class="si"><svg width="16" height="16" viewBox="0 0 16 16"><path d="M8 1C10.5 4 12 6 11 9c-.5 1.5-2 2-3 2s-2.5-.5-3-2C4 6.5 6 4 8 1z" fill="#f07a2a"/><path d="M8 5c1.2 1.6 1.6 2.7 1.1 4.2-.3.7-.8 1-1.1 1s-1-.3-1.2-1C6.4 8 7 6.5 8 5z" fill="#fbd040"/><path d="M1.5 11.5l13 3M14.5 11.5l-13 3" stroke="#a8652e" stroke-width="2.2"/><circle cx="2" cy="14.3" r="1.1" fill="#e6c79a"/><circle cx="14" cy="14.3" r="1.1" fill="#e6c79a"/></svg></div><div class="lab">Firemaking</div><div class="lv mx">(120 / 120)</div></div><div class="item" style="top:326.67px;"><div class="si"><svg width="16" height="16" viewBox="0 0 16 16"><path d="M3.5 9.5C1 9.5 0.5 6.5 2 5s3-1 3.5-.3C6 2.5 7 1.8 8 1.8s2 .7 2.5 2.9C11 4 12.5 3.5 14 5s1 4.5-1.5 4.5V14h-9z" fill="#f2f2f2"/><rect x="3.5" y="13.3" width="9" height="1.6" fill="#e0584a"/></svg></div><div class="lab">Cooking</div><div class="lv mx">(120 / 120)</div></div><div class="item" style="top:353.34px;"><div class="si"><svg width="16" height="16" viewBox="0 0 16 16"><path d="M2 5C5 1.5 10 0.8 14.5 1.5 10 2 6 3 2 5z" fill="#b8c2cc"/><path d="M6.5 4.2L15 14" stroke="#b07040" stroke-width="1.8"/><path d="M1.5 14.5L8.2 6.5" stroke="#9aa5ae" stroke-width="1.4"/></svg></div><div class="lab">Mining</div><div class="lv mx">(120 / 120)</div></div><div class="item" style="top:380.00px;"><div class="si"><svg width="16" height="16" viewBox="0 0 16 16"><path d="M1 4h12.5l1.5-1v3c-2 .5-3.5 1-4.5 2.5v2L12.5 12H3.5L5.5 10.5v-2C4 6.5 1.5 6.5 1 5z" fill="#9a9ea6"/><rect x="3.5" y="12" width="9" height="2" fill="#7f838b"/></svg></div><div class="lab">Smithing</div><div class="lv">(119 / 120)</div></div><div class="item" style="top:406.67px;"><div class="si"><svg width="16" height="16" viewBox="0 0 16 16"><path d="M3 5.5h10v6c0 2.5-2.5 4-5 4s-5-1.5-5-4z" fill="#8d9299"/><path d="M3 7h10v2.5H3z" fill="#f0d6c0"/><circle cx="6" cy="8.2" r="0.8" fill="#333"/><circle cx="10" cy="8.2" r="0.8" fill="#333"/><path d="M1 5.5h14v1H1zM4 1.5h8l.8 4H3.2z" fill="#545a63"/></svg></div><div class="lab">Thieving</div><div class="lv mx">(120 / 120)</div></div><div class="item" style="top:433.34px;"><div class="si"><svg width="16" height="16" viewBox="0 0 16 16"><path d="M8 12V6" stroke="#3cae4a" stroke-width="1.4"/><path d="M8 7C5.5 7.5 2.5 6 2 3c3-.5 5.5 1 6 4z" fill="#5cc24a"/><path d="M8 7c2.5.5 5.5-1 6-4-3-.5-5.5 1-6 4z" fill="#5cc24a"/><path d="M1 15.5c.5-2.5 3.5-4 7-4s6.5 1.5 7 4z" fill="#b5722e"/></svg></div><div class="lab">Farming</div><div class="lv mx">(120 / 120)</div></div><div class="item" style="top:460.01px;"><div class="si"><svg width="16" height="16" viewBox="0 0 16 16"><path d="M2 14L14 2" stroke="#8a5a3a" stroke-width="1.4"/><path d="M2 2l1 1" stroke="#8a5a3a" stroke-width="1.4"/><path d="M11.5 1.5l3 3M12.5 1l2.5 0.5 .5 2.5" stroke="#d84a3a" stroke-width="1.6" fill="none"/><path d="M1 15l1.5-4 2.5 2.5z" fill="#d0d3d8"/><path d="M5 11l-2-2M7 9l-2-2" stroke="#d84a3a" stroke-width="1.4"/></svg></div><div class="lab">Fletching</div><div class="lv mx">(120 / 120)</div></div><div class="item" style="top:486.67px;"><div class="si"><svg width="16" height="16" viewBox="0 0 16 16"><rect x="3.2" y="5" width="1.8" height="10.5" fill="#c08040"/><path d="M1 2.5h6.5v3H1z" fill="#a9aeb5"/><rect x="10.5" y="1" width="3" height="6" fill="#c9cdd2"/><rect x="10.8" y="7" width="2.4" height="8.5" fill="#c08040"/></svg></div><div class="lab">Crafting</div><div class="lv">(105 / 120)</div></div><div class="item" style="top:513.34px;"><div class="si"><svg width="16" height="16" viewBox="0 0 16 16"><circle cx="8" cy="8" r="7.3" fill="#c9ccd2"/><circle cx="8" cy="8" r="5.6" fill="#e4e5e8"/><path d="M9.5 2.5L5 9h3l-1.5 4.5L11.5 7h-3z" fill="#f3c53a"/></svg></div><div class="lab">Runecrafting</div><div class="lv mx">(120 / 120)</div></div><div class="item" style="top:540.01px;"><div class="si"><svg width="16" height="16" viewBox="0 0 16 16"><path d="M8 13C5 12 4 8.5 8 3c4 5.5 3 9 0 10z" fill="#63c28a"/><path d="M8 13.5C5 14.5 1 12.5 0.5 8.5 4 8 7 9.5 8 13.5z" fill="#4aa872"/><path d="M8 13.5c3 1 7-1 7.5-5-3.5-.5-6.5 1-7.5 5z" fill="#4aa872"/></svg></div><div class="lab">Herblore</div><div class="lv">(100 / 120)</div></div><div class="item" style="top:566.67px;background:#2d303b;"><div class="si"><svg width="16" height="16" viewBox="0 0 16 16"><g fill="none" stroke="#5b7ff0" stroke-linecap="round" stroke-linejoin="round"><path d="M10.2 5.3L7.4 9.4" stroke-width="2.7"/><path d="M10.2 5.3L12.4 7.6 15 7" stroke-width="1.6"/><path d="M9.6 5.1L6.9 4.7 5.2 6.8" stroke-width="1.6"/><path d="M7.4 9.4L10.3 10.9 9.2 14.7" stroke-width="1.8"/><path d="M7.4 9.4L5.7 12.2 1.9 13.6" stroke-width="1.8"/><path d="M1 7.8h2.4M0.7 10h2" stroke-width="1.1"/><path d="M2.6 1.3C1.6 1.1 1.2 1.7 1.6 2.2S3.2 2.8 2.9 3.6 1.6 4 1.2 3.7M2.1 0.6v4" stroke-width="0.7"/></g><circle cx="12.4" cy="2.6" r="1.9" fill="#5b7ff0"/></svg></div><div class="lab">Agility</div><div class="lv">(117 / 120)</div></div><div class="item" style="top:593.34px;"><div class="si"><svg width="16" height="16" viewBox="0 0 16 16"><path d="M2 1l3.5 4h5L14 1l1 7-2 5-5 2.5L3 13 1 8z" fill="#8e939a"/><path d="M5.5 8l2.5 6 2.5-6-2.5 1.5z" fill="#c9ccd1"/><path d="M4 8l2 .5M12 8l-2 .5" stroke="#333" stroke-width="0.8"/></svg></div><div class="lab">Summoning</div><div class="lv mx">(120 / 120)</div></div><div class="item" style="top:620.01px;"><div class="si"><svg width="16" height="16" viewBox="0 0 16 16"><circle cx="8" cy="8" r="6.8" fill="none" stroke="#8ec4f0" stroke-width="1.6"/><circle cx="8" cy="8" r="2.3" fill="#8ec4f0"/><path d="M8 1.2v13.6M1.2 8h13.6M3.2 3.2l9.6 9.6M12.8 3.2l-9.6 9.6" stroke="#8ec4f0" stroke-width="1"/><circle cx="8" cy="8" r="4.5" fill="none" stroke="#3b6ea8" stroke-width="0.8"/></svg></div><div class="lab">Astrology</div><div class="lv mx">(120 / 120)</div></div><div class="item" style="top:646.67px;"><div class="si"><svg width="16" height="16" viewBox="0 0 16 16"><path d="M8 1l5 4.2V9H3V5.2z" fill="#f2f2f2"/><path d="M8 0.6l5.8 4.9-1 .8L8 2.3 3.2 6.3l-1-.8z" fill="#e2553e"/><rect x="7" y="5.5" width="2" height="3.5" fill="#f0a030"/><path d="M0.5 8.5c1.5 0 2.5 2.5 4 3.5h7c1.5-1 2.5-3.5 4-3.5L13 14H3z" fill="#f5c46a"/></svg></div><div class="lab">Township</div><div class="lv mx">(120 / 120)</div></div><div class="item" style="top:673.34px;"><div class="si"><svg width="16" height="16" viewBox="0 0 16 16"><path d="M8 0.5L13 12H3z" fill="#6f63d9"/><path d="M8 0.5L10 5 9.5 1.7z" fill="#9a90f0"/><ellipse cx="8" cy="13" rx="7.5" ry="2.5" fill="#7a6ee6"/><path d="M3.6 10.5h8.8l.6 2H3z" fill="#f1c232"/></svg></div><div class="lab">Alt. Magic</div><div class="lv mx">(120 / 120)</div></div><div class="shdr" style="top:715.2px">MINIGAME</div><div class="shead"></div><svg width="160" height="56" viewBox="0 0 160 56" style="position:absolute;left:0;top:0">
<path d="M71.8 5.2Q71.8 4.3 73 4.3H76.5L80.5 9.8 84.5 4.3H88.3Q89.5 4.3 89.5 5.2V19H84.2V12.8L80.5 15.8 76.8 12.8V19H71.8z" fill="#d9482b"/>
<path d="M80.5 1v7.5" stroke="#eccf5a" stroke-width="1.5"/><path d="M78.2 4.4h4.6" stroke="#eccf5a" stroke-width="1.3"/><ellipse cx="80.5" cy="17.6" rx="1.2" ry="2.2" fill="#eccf5a"/>
<path d="M27 24.3h24l4 4.7H22zM109 24.3h24l5 4.7H105z" fill="#7466e6"/>
<path d="M16.5 29.3L56 28.6h48l40.5.7-5.5 6.7-9 8.8H32.5l-10.5-8.8z" fill="#7d70f0"/>
<text x="57" y="27.6" font-family="Liberation Sans" font-weight="700" font-size="6.6" fill="#d6d6d6" textLength="31" lengthAdjust="spacingAndGlyphs">MELVOR</text>
<text x="89.5" y="27.6" font-family="Liberation Sans" font-weight="700" font-size="6.6" fill="#8c8c8c" textLength="13.5" lengthAdjust="spacingAndGlyphs">IDLE</text>
<text x="31.3" y="42" font-family="Liberation Sans" font-weight="700" font-size="12.5" fill="#181828" textLength="37" lengthAdjust="spacingAndGlyphs">THRONE</text>
<text x="70.5" y="40.5" font-family="Liberation Sans" font-weight="700" font-size="7" fill="#181828" textLength="20" lengthAdjust="spacingAndGlyphs">OF THE</text>
<text x="93" y="42" font-family="Liberation Sans" font-weight="700" font-size="12.5" fill="#181828" textLength="38" lengthAdjust="spacingAndGlyphs">HERALD</text>
<rect x="58.7" y="44.3" width="43" height="8.7" rx="1" fill="#1c1b2e"/>
<text x="63.5" y="51" font-family="Liberation Sans" font-weight="700" font-size="5.6" fill="#e6e6ee" textLength="34" lengthAdjust="spacingAndGlyphs">EXPANSION</text>
</svg></div><div class="fb" style="top:548.7px;height:28.3px"><svg width="18" height="18" viewBox="0 0 18 18" style="position:absolute;left:6.5px;top:3.7px"><ellipse cx="9.5" cy="10.8" rx="6.8" ry="5" fill="#c9aa7c"/><ellipse cx="11" cy="11.5" rx="3.2" ry="2.3" fill="#dcc298"/><path d="M2 4.2h14.5" stroke="#c08a50" stroke-width="1.5"/><rect x="1.5" y="2.2" width="2.2" height="2" fill="#5cc24a"/><path d="M6.5 4.5v4.5M9.5 4.5v4.5M12.5 4.5v4" stroke="#8a6a48" stroke-width="1"/></svg></div><div class="fb" style="top:576.5px;height:28.3px"><svg width="18" height="18" viewBox="0 0 18 18" style="position:absolute;left:6.5px;top:3.7px"><rect x="7.6" y="1.2" width="2.8" height="3.4" fill="#e4e4e6" transform="rotate(0 9 9.3)"/><rect x="7.6" y="1.2" width="2.8" height="3.4" fill="#e4e4e6" transform="rotate(45 9 9.3)"/><rect x="7.6" y="1.2" width="2.8" height="3.4" fill="#e4e4e6" transform="rotate(90 9 9.3)"/><rect x="7.6" y="1.2" width="2.8" height="3.4" fill="#e4e4e6" transform="rotate(135 9 9.3)"/><rect x="7.6" y="1.2" width="2.8" height="3.4" fill="#e4e4e6" transform="rotate(180 9 9.3)"/><rect x="7.6" y="1.2" width="2.8" height="3.4" fill="#e4e4e6" transform="rotate(225 9 9.3)"/><rect x="7.6" y="1.2" width="2.8" height="3.4" fill="#e4e4e6" transform="rotate(270 9 9.3)"/><rect x="7.6" y="1.2" width="2.8" height="3.4" fill="#e4e4e6" transform="rotate(315 9 9.3)"/><circle cx="9" cy="9.3" r="5.6" fill="#e4e4e6"/><circle cx="9" cy="9.3" r="3.2" fill="#b9bcc8"/><circle cx="9" cy="9.3" r="2.3" fill="#4a4e7a"/></svg></div><div class="fb" style="top:604.3px;height:28.3px"><svg width="18" height="18" viewBox="0 0 18 18" style="position:absolute;left:6.5px;top:3.7px"><path d="M3 1l3.5 4.5h5L15 1l1.3 8-2.3 5.5L9 17.3 4 14.5 1.7 9z" fill="#8e939a"/><path d="M6 9l3 7 3-7-3 1.8z" fill="#c9ccd1"/><path d="M5 9l2 .5M13 9l-2 .5" stroke="#333" stroke-width="0.9"/></svg></div><div class="fb" style="top:632.1px;height:28.3px"><svg width="18" height="18" viewBox="0 0 18 18" style="position:absolute;left:6.5px;top:3.7px"><path d="M5 11l-2.5 6 2.5-1 1.5 2 2-5.5zM13 11l2.5 6-2.5-1-1.5 2-2-5.5z" fill="#e8584a"/><circle cx="9" cy="7.5" r="6.5" fill="#f3c53a"/><circle cx="9" cy="7.5" r="4.6" fill="#f6d25a"/><path d="M9 4.2l1 2.2 2.3.2-1.8 1.5.6 2.3L9 9.1l-2.1 1.3.6-2.3-1.8-1.5 2.3-.2z" fill="#e89a20"/></svg></div><div class="fb" style="top:659.9px;height:28.3px"><svg width="18" height="18" viewBox="0 0 18 18" style="position:absolute;left:6.5px;top:3.7px"><path d="M4 1h10v6a5 5 0 0 1-10 0z" fill="#f2b01e"/><path d="M4 2.5H1.2v1.8a3.6 3.6 0 0 0 3.3 3.6M14 2.5h2.8v1.8a3.6 3.6 0 0 1-3.3 3.6" fill="none" stroke="#f2b01e" stroke-width="1.4"/><rect x="8" y="11.5" width="2" height="2.5" fill="#e09a14"/><path d="M5.5 13.5h7l.8 3.5H4.7z" fill="#d6454f"/></svg></div><div class="fb" style="top:687.7px;height:28.3px"><svg width="18" height="18" viewBox="0 0 18 18" style="position:absolute;left:6.5px;top:3.7px"><path d="M4.5 7l4.5 4.5L13.5 7" fill="none" stroke="#dcdfe5" stroke-width="1.5"/></svg></div></body></html>
